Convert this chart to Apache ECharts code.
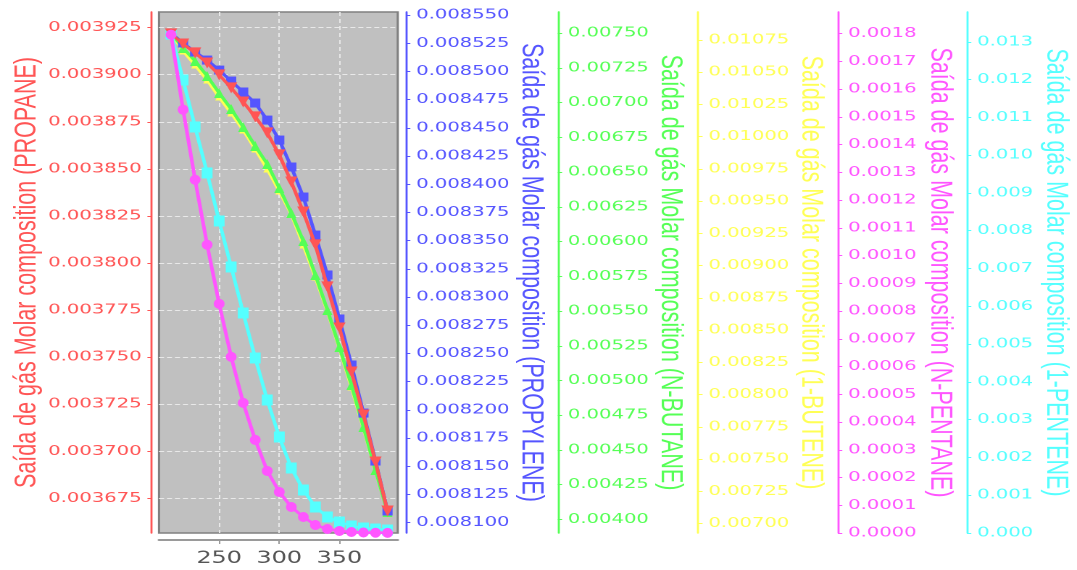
<!DOCTYPE html>
<html><head><meta charset="utf-8">
<script src="https://cdn.jsdelivr.net/npm/echarts@6/dist/echarts.min.js"></script>
<style>
html,body{margin:0;padding:0;background:#fff;overflow:hidden;}
#chart{width:743px;height:570px;transform:scaleX(1.4495);transform-origin:0 0;}
</style></head><body><div id="chart"></div>
<script>
// Temperature (x axis)
const temperatures = [210,220,230,240,250,260,270,280,290,300,310,320,330,340,350,360,370,380,390];
// Series values (gas outlet molar composition)
const propane   = [0.0039217,0.0039163,0.0039116,0.0039062,0.0038999,0.0038930,0.0038855,0.0038776,0.0038691,0.0038574,0.0038430,0.0038271,0.0038096,0.0037873,0.0037655,0.0037421,0.0037193,0.0036943,0.0036683];
const propylene = [0.0085340,0.0085252,0.0085172,0.0085101,0.0085012,0.0084915,0.0084818,0.0084720,0.0084569,0.0084392,0.0084153,0.0083887,0.0083550,0.0083196,0.0082806,0.0082398,0.0081972,0.0081547,0.0081104];
const nButane   = [0.0075014,0.0073935,0.0072999,0.0071919,0.0070695,0.0069544,0.0068248,0.0066880,0.0065585,0.0063857,0.0062057,0.0060042,0.0057594,0.0055075,0.0052411,0.0049676,0.0046653,0.0043557,0.0040534];
const butene1   = [0.0108043,0.0106647,0.0105561,0.0104397,0.0103079,0.0101838,0.0100519,0.0099045,0.0097494,0.0095787,0.0094003,0.0091599,0.0089117,0.0086479,0.0083609,0.0080584,0.0077404,0.0074146,0.0070888];
const nPentane  = [0.0017965,0.0015260,0.0012734,0.0010390,0.0008261,0.0006349,0.0004690,0.0003355,0.0002237,0.0001479,0.0000938,0.0000577,0.0000289,0.0000144,0.0000072,0.0000036,0.0000018,0.0000009,0.0000004];
const pentene1  = [0.013208,0.011990,0.010746,0.009529,0.008258,0.007041,0.005823,0.004632,0.003520,0.002541,0.001720,0.001138,0.000688,0.000424,0.000291,0.000185,0.000132,0.000106,0.000079];

// Tick labels
const xTicks = [250,300,350];
const propaneTicks = [0.003675,0.0037,0.003725,0.00375,0.003775,0.0038,0.003825,0.00385,0.003875,0.0039,0.003925];
const propyleneTicks = [0.0081,0.008125,0.00815,0.008175,0.0082,0.008225,0.00825,0.008275,0.0083,0.008325,0.00835,0.008375,0.0084,0.008425,0.00845,0.008475,0.0085,0.008525,0.00855];
const nButaneTicks = [0.004,0.00425,0.0045,0.00475,0.005,0.00525,0.0055,0.00575,0.006,0.00625,0.0065,0.00675,0.007,0.00725,0.0075];
const buteneTicks = [0.007,0.00725,0.0075,0.00775,0.008,0.00825,0.0085,0.00875,0.009,0.00925,0.0095,0.00975,0.01,0.01025,0.0105,0.01075];
const nPentaneTicks = [0,0.0001,0.0002,0.0003,0.0004,0.0005,0.0006,0.0007,0.0008,0.0009,0.001,0.0011,0.0012,0.0013,0.0014,0.0015,0.0016,0.0017,0.0018];
const penteneTicks = [0,0.001,0.002,0.003,0.004,0.005,0.006,0.007,0.008,0.009,0.01,0.011,0.012,0.013];

const names = [
  'Saída de gás Molar composition (PROPANE)',
  'Saída de gás Molar composition (PROPYLENE)',
  'Saída de gás Molar composition (N-BUTANE)',
  'Saída de gás Molar composition (1-BUTENE)',
  'Saída de gás Molar composition (N-PENTANE)',
  'Saída de gás Molar composition (1-PENTENE)'
];

const RED='#ff5555', BLUE='#5555ff', GREEN='#55ff55', YELLOW='#ffff55', MAGENTA='#ff55ff', CYAN='#55ffff';

function yAxis(o){
  return {
    type:'value', position:o.pos, offset:o.offset, min:o.min, max:o.max,
    name:o.name, nameLocation:'middle', nameGap:o.nameGap, nameRotate:o.nameRotate,
    nameTextStyle:{color:o.color, fontFamily:'Liberation Sans', fontSize:21.5},
    axisLine:{show:true, onZero:false, lineStyle:{color:o.color, width:1.4}},
    axisTick:{show:true, length:3, customValues:o.ticks, lineStyle:{color:o.color, width:1}},
    axisLabel:{show:true, customValues:o.ticks, margin:7, color:o.color, fontFamily:'DejaVu Sans', fontSize:13.5,
      formatter:function(v){return Number(v).toFixed(o.dec);}},
    splitLine:o.split ? {show:true, lineStyle:{color:'#e9e9e9', width:1, type:[3.5,2]}} : {show:false},
    splitArea:{show:false}
  };
}

const chart = echarts.init(document.getElementById('chart'), null, {renderer:'canvas', devicePixelRatio:2});
const pts = arr => temperatures.map((t,i)=>[t, arr[i]]);

chart.setOption({
  animation:false,
  backgroundColor:'#ffffff',
  grid:{left:109.7, top:12, width:164.7, height:521, show:true, backgroundColor:'#c0c0c0',
        borderColor:'#808080', borderWidth:1.5, containLabel:false, outerBoundsMode:'none'},
  xAxis:{type:'value', min:200, max:398.5, offset:7,
    axisLine:{show:true, onZero:false, lineStyle:{color:'#9a9a9a', width:2}},
    axisTick:{show:true, length:4, customValues:xTicks, lineStyle:{color:'#9a9a9a', width:1}},
    axisLabel:{customValues:xTicks, color:'#555555', fontFamily:'DejaVu Sans', fontSize:16.5, margin:10},
    splitLine:{show:true, lineStyle:{color:'#e9e9e9', width:1, type:[4,3]}}},
  yAxis:[
    yAxis({pos:'left', offset:5, min:0.0036566, max:0.0039333, name:names[0], nameGap:74, nameRotate:90, color:RED, ticks:propaneTicks, dec:6, split:true}),
    yAxis({pos:'right', offset:5.7, min:0.0080909, max:0.0085527, name:names[1], nameGap:72.5, nameRotate:-90, color:BLUE, ticks:propyleneTicks, dec:6}),
    yAxis({pos:'right', offset:110.4, min:0.0039021, max:0.0076526, name:names[2], nameGap:66, nameRotate:-90, color:GREEN, ticks:nButaneTicks, dec:5}),
    yAxis({pos:'right', offset:207.3, min:0.0069263, max:0.0109672, name:names[3], nameGap:66.5, nameRotate:-90, color:YELLOW, ticks:buteneTicks, dec:5}),
    yAxis({pos:'right', offset:303.7, min:0, max:0.001878, name:names[4], nameGap:59.4, nameRotate:-90, color:MAGENTA, ticks:nPentaneTicks, dec:4}),
    yAxis({pos:'right', offset:392.7, min:0, max:0.013789, name:names[5], nameGap:50.2, nameRotate:-90, color:CYAN, ticks:penteneTicks, dec:3})
  ],
  series:[
    {name:'1-BUTENE', type:'line', yAxisIndex:3, data:pts(butene1), symbol:'triangle', symbolSize:[5.5,7],
      lineStyle:{color:YELLOW, width:2.5}, itemStyle:{color:YELLOW}, z:2},
    {name:'N-BUTANE', type:'line', yAxisIndex:2, data:pts(nButane), symbol:'triangle', symbolSize:[7,10],
      lineStyle:{color:GREEN, width:2.5}, itemStyle:{color:GREEN}, z:3},
    {name:'PROPYLENE', type:'line', yAxisIndex:1, data:pts(propylene), symbol:'rect', symbolSize:[7,9],
      lineStyle:{color:BLUE, width:2.5}, itemStyle:{color:BLUE}, z:4},
    {name:'PROPANE', type:'line', yAxisIndex:0, data:pts(propane), symbol:'triangle', symbolRotate:180, symbolSize:[8.5,11],
      lineStyle:{color:RED, width:2.5}, itemStyle:{color:RED}, z:5},
    {name:'1-PENTENE', type:'line', yAxisIndex:5, data:pts(pentene1), symbol:'rect', symbolSize:[7.5,11],
      lineStyle:{color:CYAN, width:2.5}, itemStyle:{color:CYAN}, z:4},
    {name:'N-PENTANE', type:'line', yAxisIndex:4, data:pts(nPentane), symbol:'circle', symbolSize:[7.5,10],
      lineStyle:{color:MAGENTA, width:2.5}, itemStyle:{color:MAGENTA}, z:5}
  ]
});
</script></body></html>
